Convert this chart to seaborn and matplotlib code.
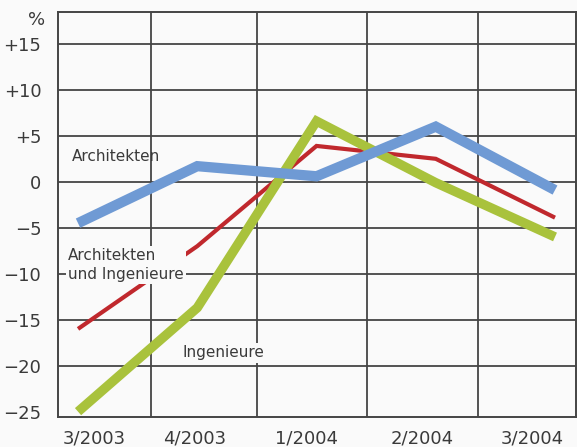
import matplotlib
matplotlib.use("Agg")
import matplotlib.pyplot as plt
import seaborn as sns
import pandas as pd

# Quarterly change in percent
quarters = ["3/2003", "4/2003", "1/2004", "2/2004", "3/2004"]
architekten = [-4.5, 1.7, 0.6, 6.0, -0.9]
architekten_ingenieure = [-16.0, -7.0, 3.9, 2.5, -3.9]
ingenieure = [-25.0, -13.7, 6.6, -0.1, -6.0]

y_ticks = [-25, -20, -15, -10, -5, 0, 5, 10, 15]
y_labels = ["\u221225", "\u221220", "\u221215", "\u221210", "\u22125", "0", "+5", "+10", "+15"]

BG = "#fafafa"
GRID = "#454545"
TEXT = "#3a3a3a"

sns.set_style("white")
plt.rcParams["font.family"] = ["DejaVu Sans"]

fig = plt.figure(figsize=(5.77, 4.47), dpi=100, facecolor=BG)
ax = fig.add_axes([58 / 577, 1 - 416.7 / 447, (576 - 58) / 577, (416.7 - 11.7) / 447])
ax.set_facecolor(BG)

pos = list(range(len(quarters)))
series = [
    ("Ingenieure", ingenieure, "#a9c23c", 6.8, 3),
    ("Architekten und Ingenieure", architekten_ingenieure, "#c0282d", 3.0, 2),
    ("Architekten", architekten, "#6f9ad4", 7.4, 4),
]
for name, vals, color, lw, z in series:
    df = pd.DataFrame({"pos": pos, "value": vals})
    sns.lineplot(data=df, x="pos", y="value", color=color, linewidth=lw, ax=ax,
                 zorder=z, solid_joinstyle="miter", solid_capstyle="butt",
                 legend=False)

ax.set_xlim(-0.168, 4.176)
ax.set_ylim(-25.55, 18.5)

# category labels sit under the columns, grid lines between them
ax.set_xticks([0.134, 0.981, 1.912, 2.885, 3.807])
ax.set_xticklabels(quarters)
ax.set_xticks([0.612, 1.501, 2.423, 3.354], minor=True)
ax.set_yticks(y_ticks)
ax.set_yticklabels(y_labels)
ax.set_xlabel("")
ax.set_ylabel("")

ax.grid(False)
ax.xaxis.grid(True, which="minor", color=GRID, linewidth=1.3, zorder=1)
ax.yaxis.grid(True, which="major", color=GRID, linewidth=1.3, zorder=1)
ax.yaxis.get_gridlines()[0].set_visible(False)
ax.set_axisbelow(True)

ax.tick_params(axis="both", which="both", length=0, labelsize=13, colors=TEXT)
ax.tick_params(axis="y", pad=12)
ax.tick_params(axis="x", pad=9)

for sp in ax.spines.values():
    sp.set_visible(True)
    sp.set_color(GRID)
    sp.set_linewidth(1.4)

box = dict(boxstyle="square,pad=0.15", fc=BG, ec="none")
ax.text(-0.05, 2.7, "Architekten", fontsize=11, color=TEXT, ha="left", va="center",
        zorder=3.5)
ax.text(-0.084, -9.05, "Architekten\nund Ingenieure", fontsize=11, color=TEXT,
        ha="left", va="center", linespacing=1.3, bbox=box, zorder=2.5)
ax.text(0.872, -18.6, "Ingenieure", fontsize=11, color=TEXT, ha="left", va="center",
        bbox=box, zorder=2.5)

fig.text(45 / 577, 1 - 20 / 447, "%", fontsize=13, color=TEXT, ha="right", va="center")

fig.savefig("out.png", dpi=100, facecolor=BG)
